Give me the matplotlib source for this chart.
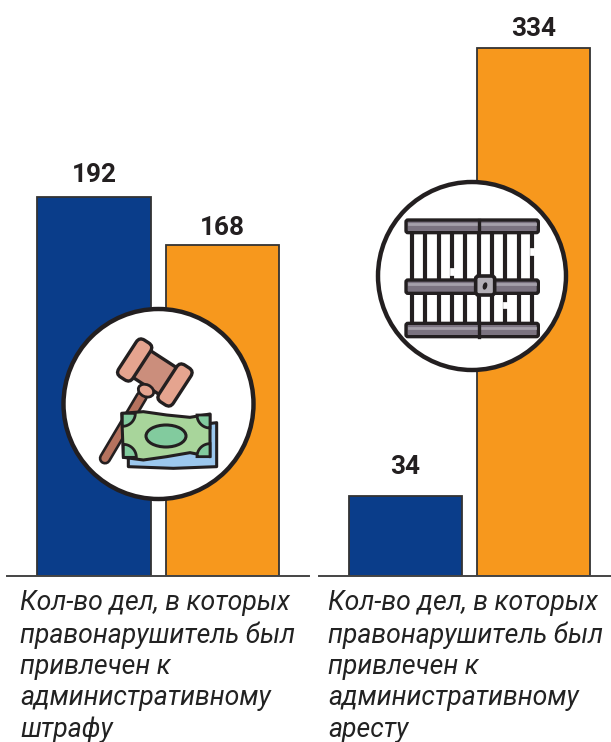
import numpy as np
import matplotlib
matplotlib.use("Agg")
import matplotlib.pyplot as plt
from matplotlib.patches import Circle, Polygon, Ellipse, FancyBboxPatch
from matplotlib.transforms import Affine2D

BLUE = "#0A3D8A"
ORANGE = "#F7981D"
DARK = "#231F20"

left_values = [192, 168]
right_values = [34, 334]
bar_colors = [BLUE, ORANGE]
left_caption = "Кол-во дел, в которых\nправонарушитель был\nпривлечен к\nадминистративному\nштрафу"
right_caption = "Кол-во дел, в которых\nправонарушитель был\nпривлечен к\nадминистративному\nаресту"

W, H = 611, 742
plt.rcParams["font.family"] = ["Roboto", "DejaVu Sans"]
fig = plt.figure(figsize=(W / 100, H / 100), dpi=100)


def panel(x0, x1, xlim):
    ax = fig.add_axes([x0 / W, 1 - 575.5 / H, (x1 - x0) / W, 575.5 / H])
    ax.set_xlim(*xlim)
    for s in ["top", "left", "right"]:
        ax.spines[s].set_visible(False)
    ax.spines["bottom"].set_color("#444444")
    ax.spines["bottom"].set_linewidth(1.4)
    ax.patch.set_alpha(0)
    return ax


def bars(ax, values, pads):
    ax.bar([0, 1], values, width=0.88, color=bar_colors, edgecolor="#333333", linewidth=1.3)
    for i, v in enumerate(values):
        ax.annotate(str(v), (i, v), xytext=(0, pads[i]), textcoords="offset points", ha="center",
                    va="bottom", fontsize=18.8, fontweight="bold", color=DARK)
    ax.set_xticks([])
    ax.set_yticks([])


ax1 = panel(7, 309, (-0.677, 1.673))
ax1.set_ylim(0, 292.2)
bars(ax1, left_values, [7.6, 3.6])

# the right panel is not proportional in the source: 34 is drawn too tall
ax2 = panel(319, 611, (-0.673, 1.6))
ys_val = [0, 34, 334, 365.5]
ys_px = [0, 80, 528, 575.5]
ax2.set_yscale("function", functions=(lambda v: np.interp(v, ys_val, ys_px),
                                      lambda p: np.interp(p, ys_px, ys_val)))
ax2.set_ylim(0, 365.5)
bars(ax2, right_values, [12, 4.9])
ax2.minorticks_off()

fig.text(20 / W, 1 - 590 / H, left_caption, style="italic", fontsize=19.2, color="#222222",
         va="top", ha="left", linespacing=1.26)
fig.text(328 / W, 1 - 590 / H, right_caption, style="italic", fontsize=19.2, color="#222222",
         va="top", ha="left", linespacing=1.26)

# overlay in pixel coordinates for the two icons
ov = fig.add_axes([0, 0, 1, 1])
ov.set_xlim(0, W)
ov.set_ylim(H, 0)
ov.axis("off")
ov.patch.set_alpha(0)

ov.add_patch(Circle((158.5, 404), 95, fc="white", ec=DARK, lw=3.2, zorder=2))
ov.add_patch(Circle((472, 276), 94, fc="white", ec=DARK, lw=3.2, zorder=2))


def z1(pts):
    return [(60 + x / 3, 300 + y / 3) for x, y in pts]


def z2(pts):
    return [(370 + x / 3, 180 + y / 3) for x, y in pts]


def poly(pts, fc, lw=2.2, ec=DARK, z=3):
    ov.add_patch(Polygon(pts, closed=True, fc=fc, ec=ec, lw=lw, joinstyle="round", zorder=z))


def rbox(cx, cy, w, h, angle, fc, r=4, z=3, lw=2.4):
    # rounded box centred on a pixel position, turned by angle
    p = FancyBboxPatch((-w / 2, -h / 2), w, h, boxstyle=f"round,pad=0,rounding_size={r}",
                       fc=fc, ec=DARK, lw=lw, zorder=z)
    p.set_transform(Affine2D().rotate_deg(angle).translate(cx, cy) + ov.transData)
    ov.add_patch(p)


# gavel handle
hx, hy = zip(*z1([(245, 290), (135, 475)]))
ov.plot(hx, hy, color=DARK, lw=9, solid_capstyle="round", zorder=3)
ov.plot(hx, hy, color="#B5725E", lw=5.2, solid_capstyle="round", zorder=3)

# gavel head
rbox(*z1([(285, 218)])[0], 48, 32, 33, "#CB8E7C", r=3)
rbox(*z1([(224, 180)])[0], 17, 44, 33, "#E5A48F", r=6)
rbox(*z1([(345, 255)])[0], 17, 44, 33, "#E5A48F", r=6)
ov.add_patch(Ellipse(z1([(258, 272)])[0], 16, 12, angle=25, fc="#E5A48F", ec=DARK, lw=2, zorder=4))

# banknotes
poly(z1([(205, 400), (470, 368), (470, 500), (340, 505), (205, 500)]), "#9CC8EE")
xn = np.array([185, 250, 320, 390, 450, 450, 390, 320, 250, 190])
yn = np.array([340, 335, 345, 352, 342, 470, 458, 470, 480, 472])
poly(z1(zip(xn, yn)), "#A8D59B")
ov.add_patch(Ellipse(z1([(318, 408)])[0], 40, 22, fc="#82CB9E", ec=DARK, lw=2.2, zorder=3))
for cx, cy, t1, t2 in [(187, 340, 270, 360), (450, 345, 180, 270), (190, 472, 0, 90), (450, 470, 90, 180)]:
    t = np.radians(np.linspace(t1, t2, 30))
    x, y = z1([(cx, cy)])[0]
    ov.fill(np.r_[x, x + 13 * np.cos(t)], np.r_[y, y - 13 * np.sin(t)], fc="#82CB9E", ec=DARK, lw=2, zorder=3)

# cell bars
for x in [127, 166, 206, 246, 286, 326, 366, 406, 446, 486]:
    ov.plot(*zip(*z2([(x, 150), (x, 440)])), color=DARK, lw=3, zorder=3)
# white nicks in the ink of some bars
for x, y in [(246, 275), (406, 375), (486, 215)]:
    ov.plot(*zip(*z2([(x, y - 4), (x, y + 4)])), color="white", lw=3.4, zorder=3.5)
for y0, y1 in [(120, 158), (300, 340), (430, 470)]:
    a = z2([(108, y0)])[0]
    b = z2([(505, y1)])[0]
    ov.add_patch(FancyBboxPatch(a, b[0] - a[0], b[1] - a[1], boxstyle="round,pad=0,rounding_size=2",
                                fc="#7B7380", ec=DARK, lw=2.4, zorder=4))
    ov.plot(*zip(*z2([(118, y0 + 13), (495, y0 + 13)])), color="#A5A0AA", lw=2, zorder=4.5)
ov.plot(*zip(*z2([(326, 120), (326, 158)])), color=DARK, lw=2.4, zorder=5)
ov.plot(*zip(*z2([(326, 430), (326, 470)])), color=DARK, lw=2.4, zorder=5)
a = z2([(317, 288)])[0]
ov.add_patch(FancyBboxPatch(a, 19, 19, boxstyle="round,pad=0,rounding_size=3",
                            fc="#B3AFB6", ec=DARK, lw=2.6, zorder=6))
ov.add_patch(Ellipse(z2([(345, 318)])[0], 3, 6, angle=15, fc=DARK, ec=DARK, zorder=7))

fig.savefig("out.png", dpi=100, facecolor="white")
